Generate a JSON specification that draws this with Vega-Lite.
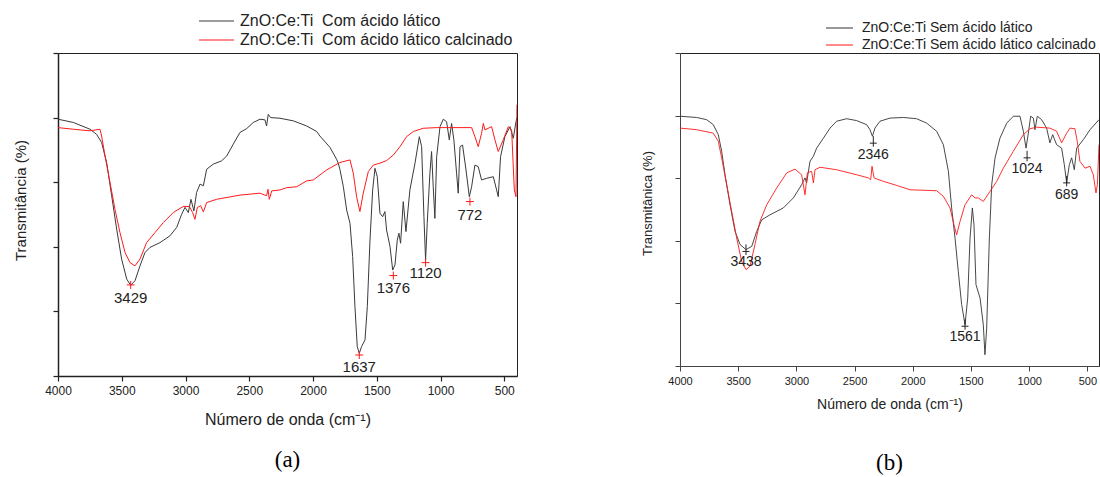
{
  "$schema": "https://vega.github.io/schema/vega-lite/v6.json",
  "padding": {"left": 12, "top": 12, "right": 0, "bottom": 0},
  "background": "white",
  "bounds": "flush",
  "spacing": 163,
  "resolve": {"scale": {"color": "independent", "x": "independent", "y": "independent"}, "legend": {"color": "independent"}},
  "config": {
    "font": "Liberation Sans",
    "view": {"stroke": "#222", "strokeWidth": 1},
    "axis": {"grid": false, "domainColor": "#222", "tickColor": "#222", "labelColor": "#222", "titleColor": "#222", "labelFont": "Liberation Sans", "titleFont": "Liberation Sans", "titleFontWeight": "normal", "labelFlush": false, "labelOverlap": false}
  },
  "datasets": {
    "a_line": [
      {"s":"k","wn":4000,"v":79.5},{"s":"k","wn":3880,"v":78.5},{"s":"k","wn":3749,"v":76.4},{"s":"k","wn":3697,"v":74.8},{"s":"k","wn":3658,"v":72.3},{"s":"k","wn":3618,"v":66},{"s":"k","wn":3579,"v":55.8},{"s":"k","wn":3540,"v":45.5},{"s":"k","wn":3501,"v":36.2},{"s":"k","wn":3461,"v":30},{"s":"k","wn":3430,"v":28.1},{"s":"k","wn":3396,"v":29.5},{"s":"k","wn":3357,"v":34.1},{"s":"k","wn":3318,"v":38.2},{"s":"k","wn":3279,"v":39.8},{"s":"k","wn":3200,"v":41.3},{"s":"k","wn":3122,"v":43.4},{"s":"k","wn":3069,"v":46},{"s":"k","wn":3030,"v":50.1},{"s":"k","wn":3004,"v":52.2},{"s":"k","wn":2978,"v":50.6},{"s":"k","wn":2957,"v":54.7},{"s":"k","wn":2934,"v":51.1},{"s":"k","wn":2913,"v":56.8},{"s":"k","wn":2886,"v":59.4},{"s":"k","wn":2860,"v":58.9},{"s":"k","wn":2834,"v":64},{"s":"k","wn":2782,"v":65.6},{"s":"k","wn":2717,"v":66.6},{"s":"k","wn":2677,"v":68.1},{"s":"k","wn":2625,"v":71.8},{"s":"k","wn":2573,"v":75.4},{"s":"k","wn":2520,"v":76.6},{"s":"k","wn":2468,"v":78.5},{"s":"k","wn":2416,"v":79.5},{"s":"k","wn":2377,"v":79.3},{"s":"k","wn":2364,"v":77.4},{"s":"k","wn":2351,"v":81},{"s":"k","wn":2332,"v":80},{"s":"k","wn":2259,"v":79.8},{"s":"k","wn":2155,"v":79},{"s":"k","wn":2102,"v":78.2},{"s":"k","wn":2050,"v":77.4},{"s":"k","wn":1971,"v":75.7},{"s":"k","wn":1946,"v":74.3},{"s":"k","wn":1867,"v":70.8},{"s":"k","wn":1815,"v":67.1},{"s":"k","wn":1802,"v":65.9},{"s":"k","wn":1789,"v":64},{"s":"k","wn":1762,"v":58.6},{"s":"k","wn":1736,"v":51.4},{"s":"k","wn":1710,"v":47.3},{"s":"k","wn":1689,"v":37},{"s":"k","wn":1671,"v":21.5},{"s":"k","wn":1653,"v":9.1},{"s":"k","wn":1637,"v":7},{"s":"k","wn":1619,"v":9.1},{"s":"k","wn":1592,"v":11.2},{"s":"k","wn":1574,"v":21.5},{"s":"k","wn":1553,"v":42.1},{"s":"k","wn":1532,"v":57.6},{"s":"k","wn":1514,"v":64.3},{"s":"k","wn":1496,"v":61.7},{"s":"k","wn":1475,"v":50.4},{"s":"k","wn":1454,"v":49.3},{"s":"k","wn":1436,"v":50.9},{"s":"k","wn":1423,"v":45.2},{"s":"k","wn":1396,"v":40.1},{"s":"k","wn":1375,"v":32.8},{"s":"k","wn":1357,"v":34.4},{"s":"k","wn":1339,"v":42.1},{"s":"k","wn":1326,"v":44.2},{"s":"k","wn":1313,"v":41.1},{"s":"k","wn":1292,"v":54},{"s":"k","wn":1271,"v":44.7},{"s":"k","wn":1240,"v":57.6},{"s":"k","wn":1200,"v":65.9},{"s":"k","wn":1166,"v":74.1},{"s":"k","wn":1148,"v":71},{"s":"k","wn":1130,"v":49.3},{"s":"k","wn":1117,"v":35.9},{"s":"k","wn":1104,"v":47.3},{"s":"k","wn":1083,"v":62.8},{"s":"k","wn":1070,"v":69.5},{"s":"k","wn":1057,"v":58.6},{"s":"k","wn":1044,"v":48.8},{"s":"k","wn":1030,"v":67.9},{"s":"k","wn":1004,"v":77.2},{"s":"k","wn":978,"v":79.5},{"s":"k","wn":952,"v":78.7},{"s":"k","wn":931,"v":73.1},{"s":"k","wn":913,"v":78.2},{"s":"k","wn":895,"v":73.1},{"s":"k","wn":874,"v":62.8},{"s":"k","wn":861,"v":56.6},{"s":"k","wn":847,"v":71},{"s":"k","wn":827,"v":71.5},{"s":"k","wn":800,"v":63.8},{"s":"k","wn":774,"v":55.5},{"s":"k","wn":756,"v":58.6},{"s":"k","wn":730,"v":65.3},{"s":"k","wn":704,"v":64.8},{"s":"k","wn":678,"v":60.7},{"s":"k","wn":638,"v":61.2},{"s":"k","wn":586,"v":61.7},{"s":"k","wn":560,"v":57.6},{"s":"k","wn":547,"v":55.5},{"s":"k","wn":529,"v":67.9},{"s":"k","wn":495,"v":74.1},{"s":"k","wn":455,"v":77.2},{"s":"k","wn":429,"v":73.6},{"s":"k","wn":408,"v":78.7},{"s":"k","wn":400,"v":80},
      {"s":"r","wn":4000,"v":76.9},{"s":"r","wn":3880,"v":76.4},{"s":"r","wn":3749,"v":75.9},{"s":"r","wn":3671,"v":76.4},{"s":"r","wn":3658,"v":74.3},{"s":"r","wn":3631,"v":68.1},{"s":"r","wn":3592,"v":59.9},{"s":"r","wn":3553,"v":51.6},{"s":"r","wn":3514,"v":44.4},{"s":"r","wn":3474,"v":38.2},{"s":"r","wn":3435,"v":35.1},{"s":"r","wn":3396,"v":34.1},{"s":"r","wn":3357,"v":36.2},{"s":"r","wn":3305,"v":41.3},{"s":"r","wn":3239,"v":44.4},{"s":"r","wn":3174,"v":47.5},{"s":"r","wn":3096,"v":50.6},{"s":"r","wn":3017,"v":52.5},{"s":"r","wn":2970,"v":52.5},{"s":"r","wn":2944,"v":50.6},{"s":"r","wn":2926,"v":48.5},{"s":"r","wn":2907,"v":52.2},{"s":"r","wn":2881,"v":52.7},{"s":"r","wn":2860,"v":50.8},{"s":"r","wn":2834,"v":53.7},{"s":"r","wn":2756,"v":54.7},{"s":"r","wn":2573,"v":56},{"s":"r","wn":2416,"v":56.6},{"s":"r","wn":2364,"v":55.8},{"s":"r","wn":2353,"v":57.8},{"s":"r","wn":2343,"v":54.7},{"s":"r","wn":2324,"v":57.3},{"s":"r","wn":2259,"v":57.6},{"s":"r","wn":2207,"v":58.3},{"s":"r","wn":2128,"v":58.6},{"s":"r","wn":2050,"v":60.4},{"s":"r","wn":1998,"v":60.7},{"s":"r","wn":1920,"v":63},{"s":"r","wn":1893,"v":63.8},{"s":"r","wn":1789,"v":66.1},{"s":"r","wn":1710,"v":66.9},{"s":"r","wn":1684,"v":62.8},{"s":"r","wn":1658,"v":55.5},{"s":"r","wn":1632,"v":50.9},{"s":"r","wn":1606,"v":56.6},{"s":"r","wn":1566,"v":63.3},{"s":"r","wn":1527,"v":65.3},{"s":"r","wn":1475,"v":65.9},{"s":"r","wn":1423,"v":66.7},{"s":"r","wn":1370,"v":68.4},{"s":"r","wn":1318,"v":71},{"s":"r","wn":1266,"v":74.1},{"s":"r","wn":1213,"v":75.7},{"s":"r","wn":1135,"v":76.7},{"s":"r","wn":1030,"v":76.9},{"s":"r","wn":756,"v":76.9},{"s":"r","wn":730,"v":74.1},{"s":"r","wn":704,"v":71},{"s":"r","wn":678,"v":75.1},{"s":"r","wn":664,"v":78.2},{"s":"r","wn":651,"v":76.2},{"s":"r","wn":599,"v":77.2},{"s":"r","wn":573,"v":73.1},{"s":"r","wn":547,"v":69.5},{"s":"r","wn":508,"v":73.1},{"s":"r","wn":468,"v":77.2},{"s":"r","wn":442,"v":76.2},{"s":"r","wn":421,"v":57.6},{"s":"r","wn":408,"v":55.5},{"s":"r","wn":400,"v":84}
    ],
    "a_peaks": [
      {"wn":3430,"m":28.2,"lv":24.1,"label":"3429"},
      {"wn":1637,"m":6.5,"lv":2.9,"label":"1637"},
      {"wn":1370,"m":31.1,"lv":27.1,"label":"1376"},
      {"wn":1117,"m":35.1,"lv":31.8,"label":"1120"},
      {"wn":769,"m":54,"lv":50,"label":"772"}
    ],
    "b_line": [
      {"s":"k","wn":4000,"v":79.8},{"s":"k","wn":3857,"v":79.4},{"s":"k","wn":3771,"v":78.7},{"s":"k","wn":3714,"v":77.1},{"s":"k","wn":3671,"v":73.9},{"s":"k","wn":3642,"v":68.6},{"s":"k","wn":3613,"v":61.1},{"s":"k","wn":3570,"v":51.5},{"s":"k","wn":3527,"v":43},{"s":"k","wn":3484,"v":38.8},{"s":"k","wn":3433,"v":37.2},{"s":"k","wn":3384,"v":38.2},{"s":"k","wn":3341,"v":43},{"s":"k","wn":3298,"v":46.7},{"s":"k","wn":3227,"v":48.3},{"s":"k","wn":3112,"v":50.5},{"s":"k","wn":3026,"v":53.7},{"s":"k","wn":2955,"v":57.9},{"s":"k","wn":2926,"v":60.1},{"s":"k","wn":2912,"v":58.5},{"s":"k","wn":2883,"v":65.4},{"s":"k","wn":2854,"v":67},{"s":"k","wn":2826,"v":69.6},{"s":"k","wn":2768,"v":72.8},{"s":"k","wn":2711,"v":76},{"s":"k","wn":2654,"v":78.2},{"s":"k","wn":2568,"v":79},{"s":"k","wn":2482,"v":78.4},{"s":"k","wn":2396,"v":77.1},{"s":"k","wn":2368,"v":75.5},{"s":"k","wn":2347,"v":73.4},{"s":"k","wn":2325,"v":76},{"s":"k","wn":2282,"v":78.2},{"s":"k","wn":2196,"v":79.2},{"s":"k","wn":2081,"v":79.4},{"s":"k","wn":1967,"v":79},{"s":"k","wn":1881,"v":77.6},{"s":"k","wn":1795,"v":75},{"s":"k","wn":1737,"v":70.7},{"s":"k","wn":1694,"v":62.2},{"s":"k","wn":1666,"v":50.5},{"s":"k","wn":1637,"v":40.9},{"s":"k","wn":1609,"v":30.2},{"s":"k","wn":1580,"v":19.6},{"s":"k","wn":1551,"v":13.2},{"s":"k","wn":1528,"v":21.7},{"s":"k","wn":1508,"v":40.9},{"s":"k","wn":1488,"v":50.5},{"s":"k","wn":1474,"v":45.1},{"s":"k","wn":1457,"v":26},{"s":"k","wn":1422,"v":21.7},{"s":"k","wn":1394,"v":13.2},{"s":"k","wn":1380,"v":3.6},{"s":"k","wn":1365,"v":12.1},{"s":"k","wn":1342,"v":40.9},{"s":"k","wn":1322,"v":57.9},{"s":"k","wn":1293,"v":66.5},{"s":"k","wn":1251,"v":72.8},{"s":"k","wn":1193,"v":77.6},{"s":"k","wn":1136,"v":79.8},{"s":"k","wn":1079,"v":79.8},{"s":"k","wn":1050,"v":75},{"s":"k","wn":1027,"v":69.6},{"s":"k","wn":1007,"v":74.4},{"s":"k","wn":987,"v":79.8},{"s":"k","wn":964,"v":79.2},{"s":"k","wn":950,"v":75.5},{"s":"k","wn":930,"v":79.8},{"s":"k","wn":893,"v":78.7},{"s":"k","wn":850,"v":76},{"s":"k","wn":822,"v":71.3},{"s":"k","wn":798,"v":73.9},{"s":"k","wn":764,"v":70.7},{"s":"k","wn":721,"v":69.6},{"s":"k","wn":698,"v":64.3},{"s":"k","wn":678,"v":58.5},{"s":"k","wn":655,"v":64.3},{"s":"k","wn":635,"v":66.5},{"s":"k","wn":612,"v":62.7},{"s":"k","wn":592,"v":69.6},{"s":"k","wn":535,"v":72.3},{"s":"k","wn":477,"v":75.5},{"s":"k","wn":400,"v":78.7},
      {"s":"r","wn":4000,"v":76},{"s":"r","wn":3857,"v":75.5},{"s":"r","wn":3714,"v":74.4},{"s":"r","wn":3671,"v":71.8},{"s":"r","wn":3642,"v":66.5},{"s":"r","wn":3599,"v":57.9},{"s":"r","wn":3556,"v":49.4},{"s":"r","wn":3513,"v":40.9},{"s":"r","wn":3470,"v":33.4},{"s":"r","wn":3433,"v":30.8},{"s":"r","wn":3399,"v":31.8},{"s":"r","wn":3356,"v":38.8},{"s":"r","wn":3313,"v":46.2},{"s":"r","wn":3255,"v":51.5},{"s":"r","wn":3169,"v":56.9},{"s":"r","wn":3083,"v":61.7},{"s":"r","wn":3012,"v":62.9},{"s":"r","wn":2955,"v":61.1},{"s":"r","wn":2926,"v":54.7},{"s":"r","wn":2906,"v":61.7},{"s":"r","wn":2869,"v":62.2},{"s":"r","wn":2854,"v":58.5},{"s":"r","wn":2840,"v":62.7},{"s":"r","wn":2797,"v":63.5},{"s":"r","wn":2654,"v":62.7},{"s":"r","wn":2482,"v":61.1},{"s":"r","wn":2382,"v":60.1},{"s":"r","wn":2362,"v":59.5},{"s":"r","wn":2350,"v":63.8},{"s":"r","wn":2333,"v":60.1},{"s":"r","wn":2253,"v":59},{"s":"r","wn":2138,"v":57.7},{"s":"r","wn":2024,"v":56.3},{"s":"r","wn":1795,"v":56},{"s":"r","wn":1737,"v":54.2},{"s":"r","wn":1680,"v":50.5},{"s":"r","wn":1646,"v":45.1},{"s":"r","wn":1623,"v":41.9},{"s":"r","wn":1594,"v":46.2},{"s":"r","wn":1551,"v":51.5},{"s":"r","wn":1494,"v":54.7},{"s":"r","wn":1465,"v":53.7},{"s":"r","wn":1437,"v":53.7},{"s":"r","wn":1394,"v":52.6},{"s":"r","wn":1336,"v":55.8},{"s":"r","wn":1279,"v":59},{"s":"r","wn":1222,"v":63.2},{"s":"r","wn":1136,"v":68.6},{"s":"r","wn":1050,"v":73.9},{"s":"r","wn":993,"v":75.8},{"s":"r","wn":936,"v":76.3},{"s":"r","wn":822,"v":76},{"s":"r","wn":764,"v":75},{"s":"r","wn":721,"v":71.3},{"s":"r","wn":678,"v":74.4},{"s":"r","wn":649,"v":76},{"s":"r","wn":607,"v":75.8},{"s":"r","wn":587,"v":71.8},{"s":"r","wn":564,"v":65.4},{"s":"r","wn":520,"v":63.2},{"s":"r","wn":477,"v":63.8},{"s":"r","wn":449,"v":61.1},{"s":"r","wn":426,"v":55.3},{"s":"r","wn":414,"v":57.9},{"s":"r","wn":400,"v":70.7}
    ],
    "b_peaks": [
      {"wn":3433,"m":36.6,"lv":33.2,"label":"3438"},
      {"wn":2339,"m":71.2,"lv":67.3,"label":"2346"},
      {"wn":1551,"m":12.7,"lv":9.2,"label":"1561"},
      {"wn":1018,"m":66.5,"lv":63,"label":"1024"},
      {"wn":678,"m":58.5,"lv":54.7,"label":"689"}
    ]
  },
  "hconcat": [
    {
      "width": 459,
      "height": 323,
      "title": {"text": "(a)", "orient": "bottom", "font": "Liberation Serif", "fontSize": 23, "fontWeight": "normal", "color": "#000", "offset": 22},
      "layer": [
        {
          "data": {"name": "a_line"},
          "mark": {"type": "line", "strokeWidth": 1, "clip": true},
          "encoding": {
            "x": {"field": "wn", "type": "quantitative", "scale": {"domain": [400, 4000], "reverse": true, "nice": false, "zero": false},
              "axis": {"title": "Número de onda (cm⁻¹)", "values": [4000,3750,3500,3250,3000,2750,2500,2250,2000,1750,1500,1250,1000,750,500], "labelExpr": "datum.value % 500 == 0 ? format(datum.value, 'd') : ''", "labelFontSize": 12, "titleFontSize": 16, "tickSize": 5, "labelPadding": 4, "titlePadding": 15, "domainWidth": 1.5, "tickWidth": 1.2}},
            "y": {"field": "v", "type": "quantitative", "scale": {"domain": [0, 100], "nice": false, "zero": false},
              "axis": {"title": "Transmitância (%)", "values": [0,10,20,30,40,50,60,70,80,90,100], "labels": false, "tickSize": 5, "titleFontSize": 15, "titleX": -38, "titleY": 147, "titleBaseline": "middle", "titleAlign": "center", "titleAngle": -90, "domainWidth": 1.5, "tickWidth": 1.2}},
            "color": {"field": "s", "type": "nominal", "scale": {"domain": ["k", "r"], "range": ["#3a3a3a", "#ff1a1a"]},
              "legend": {"orient": "none", "legendX": 150.5, "legendY": -40, "title": null, "symbolType": "M-3.5,0H3.5", "symbolSize": 100, "symbolStrokeWidth": 1.2, "labelFontSize": 16, "labelFont": "Liberation Sans", "labelColor": "#222", "labelOffset": 15.5, "rowPadding": 3, "padding": 0, "labelLimit": 500,
                "labelExpr": "datum.label == 'k' ? 'ZnO:Ce:Ti\u00a0\u00a0Com ácido lático' : 'ZnO:Ce:Ti\u00a0\u00a0Com ácido lático calcinado'"}}
          }
        },
        {
          "data": {"name": "a_peaks"},
          "mark": {"type": "point", "shape": "M-1,0H1M0,-1V1", "size": 64, "filled": false, "stroke": "#ff1a1a", "strokeWidth": 1, "opacity": 1},
          "encoding": {
            "x": {"field": "wn", "type": "quantitative"},
            "y": {"field": "m", "type": "quantitative"}
          }
        },
        {
          "data": {"name": "a_peaks"},
          "mark": {"type": "text", "fontSize": 15, "font": "Liberation Sans", "color": "#222", "align": "center", "baseline": "middle"},
          "encoding": {
            "x": {"field": "wn", "type": "quantitative"},
            "y": {"field": "lv", "type": "quantitative"},
            "text": {"field": "label"}
          }
        }
      ]
    },
    {
      "width": 419,
      "height": 313,
      "title": {"text": "(b)", "orient": "bottom", "font": "Liberation Serif", "fontSize": 23, "fontWeight": "normal", "color": "#000", "offset": 41},
      "layer": [
        {
          "data": {"name": "b_line"},
          "mark": {"type": "line", "strokeWidth": 0.9, "clip": true},
          "encoding": {
            "x": {"field": "wn", "type": "quantitative", "scale": {"domain": [400, 4000], "reverse": true, "nice": false, "zero": false},
              "axis": {"title": "Número de onda (cm⁻¹)", "values": [4000,3750,3500,3250,3000,2750,2500,2250,2000,1750,1500,1250,1000,750,500], "labelExpr": "datum.value % 500 == 0 ? format(datum.value, 'd') : ''", "labelFontSize": 11, "titleFontSize": 14, "tickSize": 5, "labelPadding": 4, "titlePadding": 11, "domainColor": "#444", "tickColor": "#444"}},
            "y": {"field": "v", "type": "quantitative", "scale": {"domain": [0, 100], "nice": false, "zero": false},
              "axis": {"title": "Transmitânica (%)", "values": [0,10,20,30,40,50,60,70,80,90,100], "labels": false, "tickSize": 5, "titleFontSize": 13, "titleX": -33, "titleY": 150, "titleBaseline": "middle", "titleAlign": "center", "titleAngle": -90, "domainColor": "#444", "tickColor": "#444"}},
            "color": {"field": "s", "type": "nominal", "scale": {"domain": ["k", "r"], "range": ["#333333", "#ff1a1a"]},
              "legend": {"orient": "none", "legendX": 152.5, "legendY": -32, "title": null, "symbolType": "M-3.375,0H3.375", "symbolSize": 64, "symbolStrokeWidth": 1, "labelFontSize": 14, "labelFont": "Liberation Sans", "labelColor": "#222", "labelOffset": 15.5, "rowPadding": 3, "padding": 0, "labelLimit": 500,
                "labelExpr": "datum.label == 'k' ? 'ZnO:Ce:Ti Sem ácido lático' : 'ZnO:Ce:Ti Sem ácido lático calcinado'"}}
          }
        },
        {
          "data": {"name": "b_peaks"},
          "mark": {"type": "point", "shape": "M-1,0H1M0,-2V1", "size": 49, "filled": false, "stroke": "#222", "strokeWidth": 1, "opacity": 1},
          "encoding": {
            "x": {"field": "wn", "type": "quantitative"},
            "y": {"field": "m", "type": "quantitative"}
          }
        },
        {
          "data": {"name": "b_peaks"},
          "mark": {"type": "text", "fontSize": 14, "font": "Liberation Sans", "color": "#222", "align": "center", "baseline": "middle"},
          "encoding": {
            "x": {"field": "wn", "type": "quantitative"},
            "y": {"field": "lv", "type": "quantitative"},
            "text": {"field": "label"}
          }
        }
      ]
    }
  ]
}
